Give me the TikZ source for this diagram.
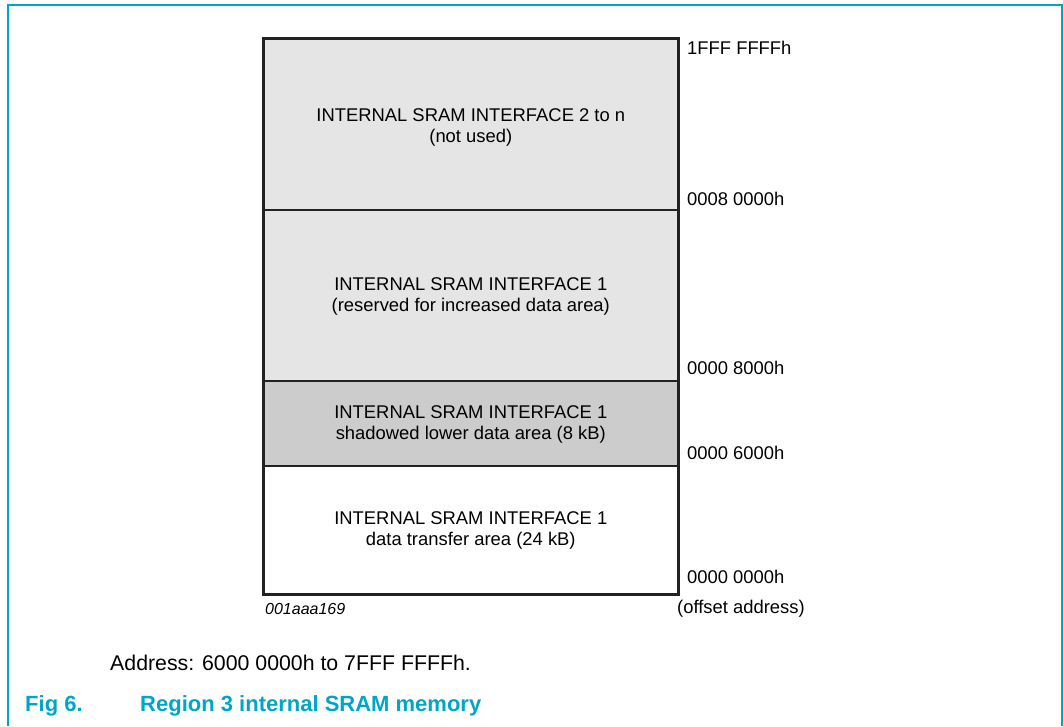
\documentclass[tikz,border=0pt]{standalone}
\usepackage{fontspec}
\setmainfont{Liberation Sans}
\definecolor{nxpcyan}{RGB}{0,166,200}
\definecolor{framegray}{RGB}{34,34,34}
\definecolor{lightfill}{RGB}{229,229,229}
\definecolor{darkfill}{RGB}{204,204,204}
\tikzset{
  region/.style={draw=framegray, line width=1.6pt, minimum width=414pt, inner sep=0pt,
    anchor=north west},
  regiontext/.style={align=center, inner sep=0pt, font=\fontsize{18.4}{21}\selectfont},
  addr/.style={anchor=west, inner sep=0pt, font=\fontsize{18.4}{21}\selectfont},
}
\begin{document}
\begin{tikzpicture}[x=1pt, y=-1pt]
  \useasboundingbox (0,0) rectangle (1063,726);
  % page frame (open at the bottom)
  \draw[nxpcyan, line width=2pt] (8,726) -- (8,4.5) -- (1062,4.5) -- (1062,726);

  % memory regions
  \node[region, fill=lightfill, minimum height=171pt] (r2n) at (263,38) {};
  \node[region, fill=lightfill, minimum height=171pt] (r1res) at (263,209) {};
  \node[region, fill=darkfill, minimum height=85pt] (r1sh) at (263,380) {};
  \node[region, fill=white, minimum height=128pt] (r1dt) at (263,465) {};
  % heavy outline around the stack
  \draw[framegray, line width=2.8pt] (r2n.north west) rectangle (r1dt.south east);

  % region descriptions
  \node[regiontext, yshift=-3pt] (t2n) at (r2n.center)
    {INTERNAL SRAM INTERFACE 2 to n\\(not used)};
  \node[regiontext, yshift=-1.5pt] (t1res) at (r1res.center)
    {INTERNAL SRAM INTERFACE 1\\(reserved for increased data area)};
  \node[regiontext, yshift=-1pt] (t1sh) at (r1sh.center)
    {INTERNAL SRAM INTERFACE 1\\shadowed lower data area (8 kB)};
  \node[regiontext, yshift=-1pt] (t1dt) at (r1dt.center)
    {INTERNAL SRAM INTERFACE 1\\data transfer area (24 kB)};

  % offset addresses
  \node[addr] (a0) at (687,48)  {1FFF FFFFh};
  \node[addr] (a1) at (687,199) {0008 0000h};
  \node[addr] (a2) at (687,368) {0000 8000h};
  \node[addr] (a3) at (687,453) {0000 6000h};
  \node[addr] (a4) at (687,577) {0000 0000h};
  \node[addr] (off) at (677,609) {(offset address)};
  \node[anchor=west, inner sep=0pt, font=\fontsize{16}{19}\selectfont\itshape] (code) at (265,609) {001aaa169};

  % caption
  \node[anchor=west, inner sep=0pt, font=\fontsize{21.3}{25}\selectfont] (addrtxt) at (110,663)
    {Address: 6000 0000h to 7FFF FFFFh.};
  \node[anchor=west, inner sep=0pt, text=nxpcyan, font=\fontsize{22}{26}\selectfont\bfseries] (fignum) at (25,706) {Fig 6.};
  \node[anchor=west, inner sep=0pt, text=nxpcyan, font=\fontsize{22}{26}\selectfont\bfseries] (figtitle) at (140,706) {Region 3 internal SRAM memory};
\end{tikzpicture}
\end{document}
